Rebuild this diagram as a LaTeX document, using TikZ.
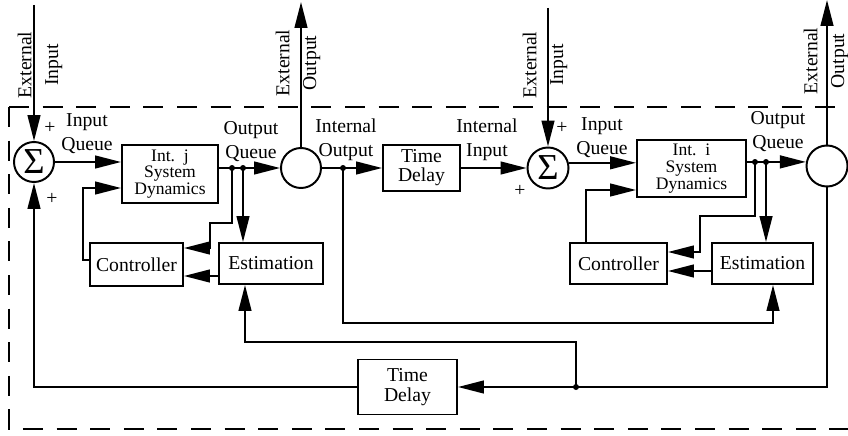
\documentclass[tikz,border=0pt]{standalone}
\usepackage{fontspec}
\setmainfont{Liberation Serif}
\usetikzlibrary{arrows.meta}

\tikzset{
  sig/.style={line width=1.4pt},
  arr/.style={sig,-{Triangle[length=0.65cm,width=0.32cm]}},
  blk/.style={draw,line width=1.4pt,inner sep=0pt,align=center},
  sumnode/.style={draw,circle,line width=1.4pt,inner sep=0pt,minimum size=1cm},
  lbl/.style={align=center,inner sep=0pt,font=\fontsize{14}{17}\selectfont},
  vlbl/.style={lbl,rotate=90,font=\fontsize{14}{19}\selectfont},
  jdot/.style={circle,fill,inner sep=0pt,minimum size=0.15cm},
  frame/.style={sig,dash pattern=on 0.5cm off 0.34cm}
}

\begin{document}
\begin{tikzpicture}[font=\fontsize{14}{14}\selectfont]
\useasboundingbox (0,0) rectangle (21.2,10.875);
% boundary
\draw[frame] (0.225,8.2)--(21.2,8.2);
\draw[frame] (0.225,8.2)--(0.225,0.15)--(21.2,0.15);

% interface j
\node[sumnode] (s1) at (0.85,6.825) {\fontsize{26}{26}\selectfont Σ};
\node[blk,minimum width=2.4cm,minimum height=1.45cm,font=\fontsize{12.5}{12}\selectfont] (intj) at (4.25,6.525) {Int.\ \ j\\System\\Dynamics};
\node[blk,minimum width=2.325cm,minimum height=1.075cm] (ctrlj) at (3.4125,4.2625) {Controller};
\node[blk,minimum width=2.6cm,minimum height=1.025cm] (estj) at (6.775,4.2875) {Estimation};
\node[sumnode] (c1) at (7.525,6.675) {};
\node[blk,minimum width=1.925cm,minimum height=1.15cm,font=\fontsize{14}{13.5}\selectfont] (td1) at (10.5375,6.675) {Time\\Delay};

% interface i
\node[sumnode,minimum size=1.025cm] (s2) at (13.7,6.675) {\fontsize{26}{26}\selectfont Σ};
\node[blk,minimum width=2.725cm,minimum height=1.425cm,font=\fontsize{12.5}{12}\selectfont] (inti) at (17.2875,6.6625) {Int.\ \ i\\System\\Dynamics};
\node[blk,minimum width=2.425cm,minimum height=1.025cm] (ctrli) at (15.4625,4.2875) {Controller};
\node[blk,minimum width=2.525cm,minimum height=1.025cm] (estii) at (19.0625,4.2875) {Estimation};
\node[sumnode,minimum size=1.025cm] (c2) at (20.675,6.725) {};
\node[blk,minimum width=2.475cm,minimum height=1.375cm,font=\fontsize{14}{14}\selectfont] (td2) at (10.1875,1.2) {Time\\Delay};

% free ends
\coordinate (ein1) at (0.85,10.75);
\coordinate (eo1) at (7.525,10.825);
\coordinate (ein2) at (13.7,10.675);
\coordinate (eo2) at (20.675,10.875);

% junctions
\node[jdot] (d1) at (5.8,6.675) {};
\node[jdot] (d2) at (6.075,6.675) {};
\node[jdot] (d3) at (8.575,6.675) {};
\node[jdot] (d4) at (18.875,6.825) {};
\node[jdot] (d5) at (19.15,6.825) {};
\node[jdot] (d6) at (14.4,1.2) {};

% connectors j
\draw[arr] (ein1) -- (s1);
\draw[arr] (s1) -- (intj.west |- s1);
\draw[arr] (ctrlj.west |- 0,4.375) -- (2.075,4.375) |- (intj.west |- 0,6.175);
\draw[arr] (intj.east |- c1) -- (c1);
\draw[arr] (d1.center) -- (5.8,5.3) -- (5.25,5.3) |- (ctrlj.east |- 0,4.675);
\draw[arr] (d2.center) -- (d2.center |- estj.north);
\draw[arr] (estj.west |- 0,3.975) -- (ctrlj.east |- 0,3.975);
\draw[arr] (c1) -- (eo1);
\draw[arr] (c1) -- (td1);
\draw[arr] (d3.center) -- (8.575,2.8) -- (19.325,2.8) -- (19.325,2.8 |- estii.south);
\draw[arr] (td1) -- (s2);

% connectors i
\draw[arr] (ein2) -- (s2);
\draw[arr] (s2.14) -- (s2.14 -| inti.west);
\draw[arr] (14.65,2.8 |- ctrli.north) -- (14.65,6.125) -- (14.65,6.125 -| inti.west);
\draw[arr] (inti.east |- c2.169) -- (c2.169);
\draw[arr] (d4.center) -- (18.875,5.475) -- (17.5,5.475) |- (ctrli.east |- 0,4.575);
\draw[arr] (d5.center) -- (d5.center |- estii.north);
\draw[arr] (estii.west |- 0,4.1) -- (ctrli.east |- 0,4.1);
\draw[arr] (c2) -- (eo2);
\draw[arr] (c2) |- (td2);
\draw[arr] (d6.center) -- (14.4,2.325) -- (6.125,2.325) -- (6.125,2.325 |- estj.south);
\draw[arr] (td2) -| (s1);

% labels
\node[vlbl] (ein1l) at (1.0,9.25) {External\\Input};
\node[vlbl] (eo1l) at (7.45,9.3) {External\\Output};
\node[vlbl] (ein2l) at (13.625,9.25) {External\\Input};
\node[vlbl] (eo2l) at (20.65,9.35) {External\\Output};
\node[lbl] (iq1) at (2.175,7.525) {Input\\Queue};
\node[lbl] (oq1) at (6.275,7.325) {Output\\Queue};
\node[lbl] (io) at (8.65,7.375) {Internal\\Output};
\node[lbl] (ii) at (12.175,7.375) {Internal\\Input};
\node[lbl] (iq2) at (15.05,7.425) {Input\\Queue};
\node[lbl] (oq2) at (19.45,7.575) {Output\\Queue};
\node[lbl] (p1) at (1.25,7.675) {+};
\node[lbl] (p2) at (1.3,5.9) {+};
\node[lbl] (p3) at (14.05,7.675) {+};
\node[lbl] (p4) at (13.0,6.1) {+};
\end{tikzpicture}
\end{document}
